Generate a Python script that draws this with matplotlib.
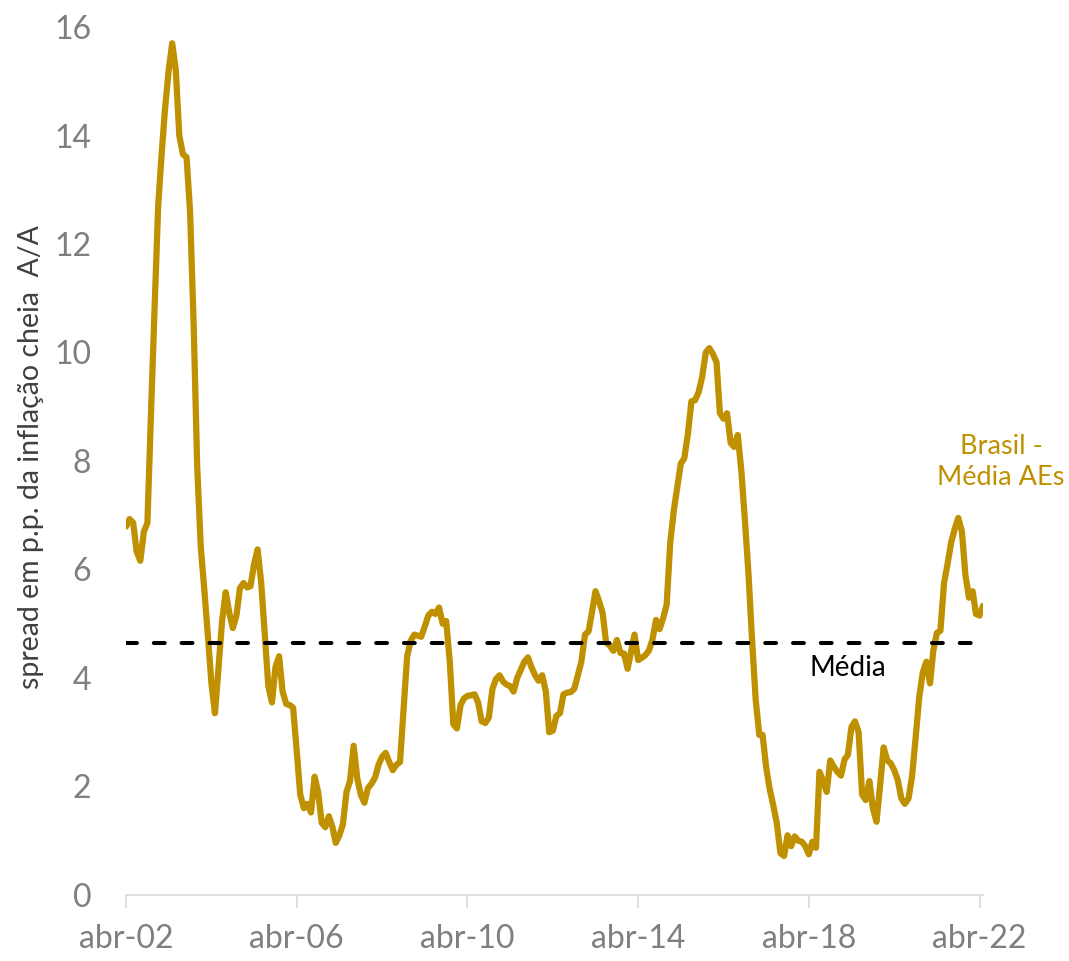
import numpy as np
import pandas as pd
import matplotlib
matplotlib.use("Agg")
import matplotlib.pyplot as plt

plt.rcParams["font.family"] = ["Lato", "DejaVu Sans"]

# spread (p.p.) between Brazil's headline inflation and the advanced-economy average, monthly from abr-02
START = "2002-04-01"
SPREAD = [
    6.79, 6.93, 6.86, 6.33, 6.16, 6.70, 6.86, 8.90, 10.8, 12.7,
    13.7, 14.5, 15.2, 15.7, 15.2, 14.0, 13.65, 13.6, 12.6, 10.5,
    7.9, 6.4, 5.6, 4.8, 3.9, 3.35, 4.2, 5.05, 5.58, 5.2,
    4.92, 5.15, 5.66, 5.75, 5.67, 5.69, 6.1, 6.37, 5.75, 4.82,
    3.85, 3.55, 4.2, 4.4, 3.75, 3.52, 3.5, 3.45, 2.65, 1.85,
    1.6, 1.68, 1.52, 2.18, 1.9, 1.33, 1.25, 1.45, 1.25, 0.96,
    1.1, 1.3, 1.9, 2.1, 2.75, 2.15, 1.85, 1.7, 1.97, 2.05,
    2.17, 2.4, 2.55, 2.62, 2.45, 2.3, 2.4, 2.45, 3.4, 4.4,
    4.68, 4.8, 4.78, 4.76, 4.95, 5.15, 5.22, 5.18, 5.3, 5.0,
    5.05, 4.3, 3.15, 3.07, 3.5, 3.62, 3.67, 3.68, 3.7, 3.55,
    3.2, 3.17, 3.27, 3.8, 3.98, 4.05, 3.93, 3.88, 3.85, 3.75,
    4.0, 4.15, 4.3, 4.38, 4.2, 4.05, 3.95, 4.05, 3.75, 3.0,
    3.03, 3.3, 3.35, 3.7, 3.73, 3.74, 3.8, 4.05, 4.3, 4.8,
    4.86, 5.2, 5.6, 5.42, 5.2, 4.65, 4.6, 4.5, 4.7, 4.46,
    4.45, 4.17, 4.5, 4.8, 4.33, 4.37, 4.42, 4.5, 4.7, 5.07,
    4.9, 5.1, 5.35, 6.5, 7.1, 7.5, 7.95, 8.05, 8.5, 9.1,
    9.12, 9.27, 9.55, 10.0, 10.08, 9.97, 9.82, 8.88, 8.78, 8.88,
    8.33, 8.26, 8.48, 7.8, 6.9, 5.9, 4.7, 3.6, 2.95, 2.95,
    2.35, 1.95, 1.65, 1.32, 0.77, 0.72, 1.1, 0.9, 1.08, 1.0,
    0.98, 0.9, 0.75, 0.98, 0.87, 2.27, 2.1, 1.9, 2.48, 2.36,
    2.27, 2.2, 2.5, 2.58, 3.1, 3.2, 3.0, 1.85, 1.75, 2.1,
    1.6, 1.35, 2.0, 2.72, 2.48, 2.43, 2.3, 2.12, 1.78, 1.68,
    1.78, 2.2, 2.9, 3.65, 4.1, 4.3, 3.9, 4.5, 4.83, 4.87,
    5.75, 6.1, 6.5, 6.75, 6.95, 6.7, 5.9, 5.48, 5.6, 5.18,
    5.15, 5.33,
]
MEDIA = 4.65
YTICKS = [0, 2, 4, 6, 8, 10, 12, 14, 16]
XTICK_YEARS = [2002, 2006, 2010, 2014, 2018, 2022]
MES = "abr"

GOLD = "#BF9000"
GREY = "#7F7F7F"

dates = pd.date_range(START, periods=len(SPREAD), freq="MS")

fig = plt.figure(figsize=(10.69, 9.61), dpi=100)
ax = fig.add_axes([0.1179, 0.0687, 0.8017, 0.9032])

ax.plot(dates, SPREAD, color=GOLD, lw=4.5, solid_joinstyle="round", solid_capstyle="round")
ax.plot([dates[0], dates[-1]], [MEDIA, MEDIA], color="black", lw=2.9,
        ls=(0, (2.7, 4.2)), dash_capstyle="round")

ax.set_ylim(0, 16)
ax.set_xlim(dates[0], dates[-1])
ax.set_yticks(YTICKS)
ax.set_yticklabels([str(v) for v in YTICKS])
xt = [pd.Timestamp(f"{y}-04-01") for y in XTICK_YEARS]
ax.set_xticks(xt)
ax.set_xticklabels([f"{MES}-{str(y)[2:]}" for y in XTICK_YEARS])

for s in ["left", "right", "top"]:
    ax.spines[s].set_visible(False)
ax.spines["bottom"].set_color("#D9D9D9")
ax.spines["bottom"].set_linewidth(1.2)
ax.tick_params(axis="y", length=0, pad=25, labelsize=23, labelcolor=GREY)
ax.tick_params(axis="x", length=9, width=1.2, color="#D9D9D9", pad=12,
               labelsize=23, labelcolor=GREY)

ax.set_ylabel("spread em p.p. da inflação cheia  A/A", fontsize=20.5, color="#404040")
ax.yaxis.set_label_coords(-0.096, 0.505)

ax.text(pd.Timestamp("2019-03-01"), 4.18, "Média", fontsize=20, color="black",
        ha="center", va="center")
ax.text(pd.Timestamp("2022-10-01"), 7.98, "Brasil -\nMédia AEs", fontsize=19.5, color=GOLD,
        ha="center", va="center", linespacing=1.3, clip_on=False)

fig.savefig("out.png", dpi=100)
